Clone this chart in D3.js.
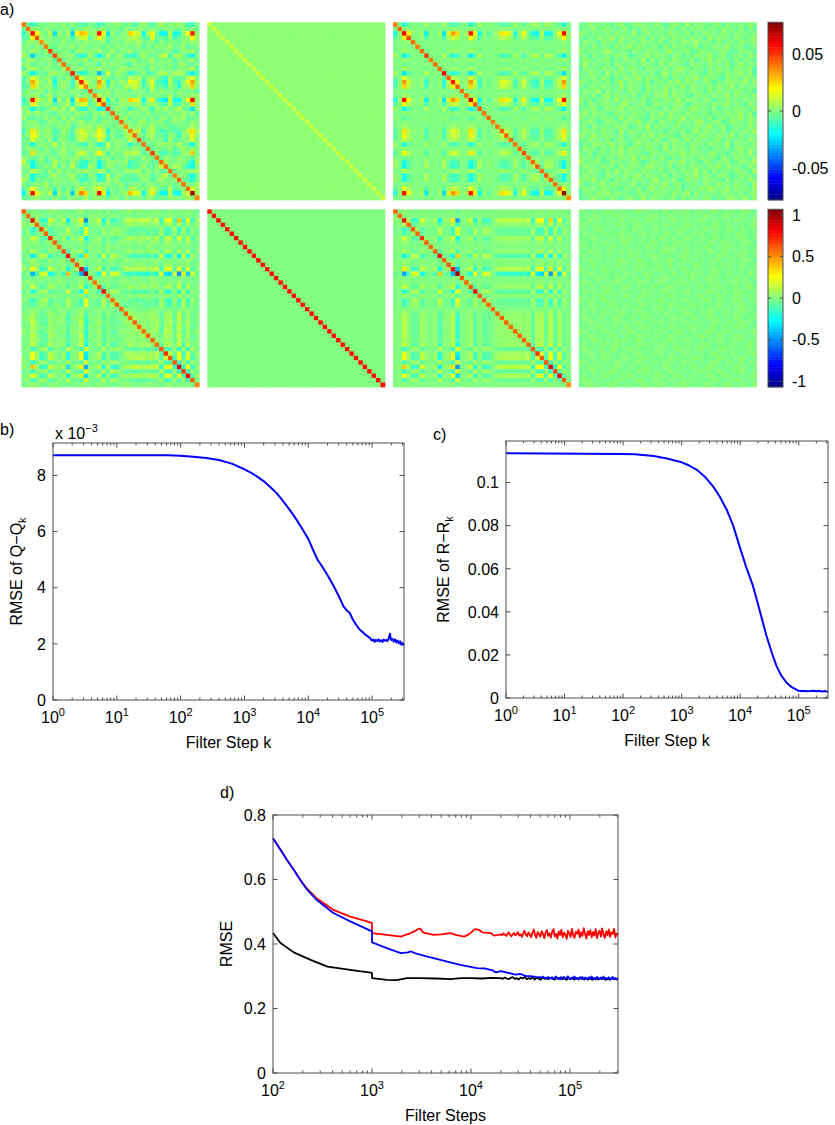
<!DOCTYPE html>
<html lang="en">
<head>
<meta charset="UTF-8">
<title>Covariance estimation figure</title>
<script src="https://d3js.org/d3.v7.min.js"></script>
<style>
  body { margin: 0; background: #fff; }
  svg { font-family: "Liberation Sans", Arial, Helvetica, sans-serif; }
  .frame { stroke: #4d4d4d; fill: none; stroke-width: 1; }
  .tick { stroke: #4d4d4d; stroke-width: 1; }
  .tick-label { font-size: 16px; fill: #000; }
  .sup { font-size: 11px; }
  .axis-title { font-size: 16px; fill: #000; }
  .panel-label { font-size: 16px; fill: #000; }
</style>
</head>
<body>
<svg id="fig" width="835" height="1125"></svg>
<script>
  // ---------- panel a: 40 x 40 matrices ----------
  const N = 40;
  const qRange = [-0.078, 0.078];
  const rRange = [-1.07, 1.07];
  const qTicks = [-0.05, 0, 0.05];
  const rTicks = [-1, -0.5, 0, 0.5, 1];

  // true matrix = scale * load_i * load_j off the diagonal, diag on it
  const qScale = 0.056;
  const qLoad = [-0.25, 0.05, 1.0, 0.35, 0.05, 0.0, 0.1, -0.38, 0.05, -0.05,
                 0.1, -0.42, 0.25, 0.62, 0.45, 0.0, 0.1, 1.0, 0.35, -0.35,
                 0.05, -0.1, 0.0, 0.1, 0.42, 0.38, 0.2, -0.28, 0.05, 0.38,
                 -0.05, -0.28, -0.36, 0.15, -0.3, -0.3, 0.05, 0.3, 1.02, 0.05];
  const qDiag = [0.040, 0.042, 0.060, 0.048, 0.042, 0.040, 0.042, 0.050, 0.040, 0.042,
                 0.041, 0.058, 0.043, 0.055, 0.045, 0.041, 0.042, 0.066, 0.046, 0.044,
                 0.041, 0.042, 0.040, 0.041, 0.044, 0.043, 0.042, 0.041, 0.042, 0.047,
                 0.041, 0.043, 0.045, 0.042, 0.044, 0.043, 0.041, 0.042, 0.074, 0.036];
  const rScale = 1.1;
  const rLoad = [0.05, 0.0, 0.55, 0.15, -0.25, -0.2, 0.3, 0.1, 0.0, 0.15,
                 -0.45, 0.05, 0.1, 0.5, -0.75, 0.0, 0.05, 0.25, -0.33, 0.1,
                 -0.25, -0.2, 0.0, 0.15, 0.2, 0.2, 0.2, 0.2, 0.2, 0.15,
                 0.25, -0.25, 0.35, 0.42, -0.2, 0.58, -0.25, 0.4, -0.2, 0.05];
  const rDiag = [0.60, 0.58, 0.78, 0.60, 0.62, 0.60, 0.70, 0.60, 0.58, 0.60,
                 0.78, 0.60, 0.62, 0.80, 1.00, 0.60, 0.58, 0.62, 0.78, 0.60,
                 0.60, 0.60, 0.58, 0.60, 0.60, 0.60, 0.58, 0.60, 0.60, 0.60,
                 0.60, 0.62, 0.70, 0.62, 0.62, 0.82, 0.64, 0.82, 0.62, 0.50];
  // initial guesses (second column)
  const qInitOff = 0.002, qInitDiag = 0.011;
  const rInitOff = 0.0, rInitDiag = 0.77;
  // estimation error (fourth column), digit 5 = zero
  const qNoiseStep = 0.0028, rNoiseStep = 0.03;
  const qNoise = [
    "5465546356445655465356547465545636455465",
    "4556465545635465546455364556455465546354",
    "6545546465547356455465546354655465465545",
    "5354655746554563645546554655374655465456",
    "4655365546455465546355466574553645546556",
    "5546455365574654553646554563546557456345",
    "6455467545536546554574556346554565346554",
    "5536455465634557465545635465574563455465",
    "4654556354655473645546554635574655364554",
    "5745546365455465537465543655465546357455",
    "3655465547465536554645765455364655465563",
    "5465537465546554635746554654365546557463",
    "4556465354655746554635546574655436554655",
    "6545546357465546355465746554653546655746",
    "5356465547465536554655473655464655736455",
    "4655736455465536455746554655374655465453",
    "5546357465546355465746554365546557465546",
    "6453556474655463554655746554653546554655",
    "5365465546745563465545653465546557455365",
    "4556346557465546553646554765546355465546",
    "5746554365546553647465546554635546557463",
    "6455465537465543655465574655463554657465",
    "4565346554655745536554655467455634655465",
    "5536455465634557465545635465574563455465",
    "4655465537465546545355463574655463554657",
    "6557465546355465746554365546554655736455",
    "5465546356445655465356547465545636455465",
    "3546655746535646554746553655465547365546",
    "4655364557465546553746554654535546357465",
    "5463554657465543655465574655466453556474",
    "6554635546557465546535465546555365465546",
    "7455634655456534655465574553654556346557",
    "4655465536465547655463554655465746554365",
    "5465536474655465546355465574636455465537",
    "4655436554655746554635546574654565346554",
    "6557455365546554674556346554655536455465",
    "6345574655456354655745634554654655465537",
    "4655465453554635746554635546576557465546",
    "3554657465543655465546557364555465546356",
    "4456554653565474655456364554653546655746"
  ];
  const rNoise = [
    "5545455645545655454645556455456545545654",
    "4556545465554545655465455454655456545545",
    "5465545546455546554556455456545545465546",
    "6545545465545654554655456545546545545456",
    "5545654545546554564545565454655545645545",
    "4655455456554564554654654556455545465545",
    "5456545546564554546555456545546545456545",
    "5545465545654554654545655455465465545654",
    "6545545654554546554656455454654556545545",
    "5465545546465545545655456455465465455645",
    "5545645545465545655454565455454655456545",
    "4565545456554654554565465545455645545654",
    "5456455465545565455464554565455465546545",
    "6545465545545654556455465455456545546455",
    "5565455454655456545546455655456545545465",
    "4545655465545546455654554654565545465545",
    "5654545565454655456545565455465545564554",
    "5455465545654554654565545546455654554565",
    "4655456545545465545655456454565545465545",
    "5545564554654565545465545456554654556455",
    "6455465545455654556545465545654554565455",
    "5465545654554565455465545655454654556545",
    "4556455465545654556454565545465545456554",
    "5545465546545565454655456545565455465545",
    "5654554565455465545456554654565545465455",
    "4565545465545654556455465545456545546554",
    "5455654554654565545465545655456455465545",
    "6545465545565455465545654554565465545456",
    "5465545654554656455465545456554654565545",
    "4556545465545654554565465545455654556455",
    "5545465565454655456545546455654554654565",
    "5654554654565545465545655456454565545465",
    "4565465545545654556455465545456554654556",
    "5455465545654565545465545565454655456545",
    "6545545465545654554655465545456545546455",
    "5465554565455465545654554654565545465545",
    "4556455654554656455465545456554654556545",
    "5545465545565455465545654554565465545456",
    "5654545465545654556455465545456545565455",
    "4565545654554565465545565454655456545546"
  ];

  // ---------- panel b: RMSE of Q - Q_k (units of 1e-3) ----------
  const stepsQ = [1, 10, 63, 100, 158, 251, 398, 631, 1000, 1259,
                  1585, 1995, 2512, 3162, 3981, 5012, 6310, 7943, 10000, 12589,
                  14125, 15849, 19953, 25119, 31623, 35481, 39811, 44668, 50119, 56234,
                  63096, 70795, 79433, 89125, 100000, 104713, 109648, 114815, 120226, 125893,
                  131826, 138038, 144544, 151356, 158489, 165959, 173780, 181970, 186209, 190546,
                  194984, 199526, 208930, 218776, 229087, 239883, 251189, 263027, 275423, 288403,
                  301995, 316228];
  const rmseQ = [8.72, 8.72, 8.72, 8.70, 8.67, 8.62, 8.55, 8.42, 8.22, 8.10,
                 7.96, 7.80, 7.60, 7.38, 7.10, 6.80, 6.48, 6.12, 5.74, 5.22,
                 4.98, 4.82, 4.45, 4.05, 3.60, 3.34, 3.20, 3.10, 2.86, 2.68,
                 2.52, 2.42, 2.32, 2.24, 2.12, 2.15, 2.08, 2.14, 2.10, 2.16,
                 2.09, 2.13, 2.07, 2.15, 2.11, 2.14, 2.10, 2.18, 2.28, 2.36,
                 2.22, 2.14, 2.18, 2.08, 2.16, 2.05, 2.12, 2.02, 2.09, 1.97,
                 2.03, 1.94];
  const qYTicks = [0, 2, 4, 6, 8];

  // ---------- panel c: RMSE of R - R_k ----------
  const stepsR = [1, 89, 158, 331, 562, 933, 1259, 1820, 2512, 3467,
                  4467, 5888, 7586, 9772, 12589, 16596, 21380, 28184, 34674, 41687,
                  50119, 61660, 75858, 97724, 112202, 125893, 141254, 158489, 177828, 199526,
                  223872, 251189, 281838, 316228];
  const rmseR = [0.1136, 0.1133, 0.1131, 0.1123, 0.1112, 0.1097, 0.1083, 0.1059, 0.1026, 0.0981,
                 0.0935, 0.0874, 0.0800, 0.0704, 0.0610, 0.0519, 0.0410, 0.0288, 0.0210, 0.0149,
                 0.0105, 0.0072, 0.0050, 0.0034, 0.0032, 0.0033, 0.0031, 0.0032, 0.0034, 0.0031,
                 0.0033, 0.0030, 0.0032, 0.0029];
  const rYTicks = [0, 0.02, 0.04, 0.06, 0.08, 0.1];

  // ---------- panel d: RMSE of three filters ----------
  const stepsRed = [100, 119, 138, 162, 189, 219, 275, 407, 603, 891,
                    1000, 1001, 1410, 1950, 2450, 2700, 3000, 3100, 3300, 4170,
                    5000, 6170, 7000, 8510, 9500, 10960, 12000, 13000, 15850, 17000, 19000];
  const rmseRed = [0.728, 0.692, 0.661, 0.630, 0.599, 0.573, 0.542, 0.506, 0.485, 0.470,
                   0.465, 0.434, 0.428, 0.423, 0.434, 0.440, 0.448, 0.446, 0.435, 0.428,
                   0.430, 0.434, 0.428, 0.423, 0.430, 0.446, 0.444, 0.436, 0.434, 0.426, 0.428];
  const tailRed = [0.430, 0.427, 0.433, 0.429, 0.425, 0.431, 0.436, 0.428, 0.424, 0.430,
                   0.434, 0.427, 0.431, 0.437, 0.426, 0.430, 0.422, 0.433, 0.441, 0.429,
                   0.424, 0.436, 0.430, 0.421, 0.434, 0.445, 0.428, 0.419, 0.437, 0.431,
                   0.423, 0.440, 0.432, 0.418, 0.436, 0.443, 0.425, 0.433, 0.420, 0.438,
                   0.446, 0.424, 0.431, 0.417, 0.439, 0.428, 0.444, 0.421, 0.435, 0.429,
                   0.416, 0.441, 0.433, 0.422, 0.447, 0.427, 0.419, 0.438, 0.432, 0.445,
                   0.420, 0.436, 0.425, 0.449, 0.430, 0.417, 0.440, 0.428, 0.443, 0.421,
                   0.437, 0.426, 0.446, 0.418, 0.434, 0.441, 0.423, 0.448, 0.429, 0.419,
                   0.439, 0.427, 0.445, 0.422, 0.436, 0.431, 0.447, 0.420, 0.433, 0.428];
  const stepsBlue = [100, 119, 138, 162, 189, 219, 275, 407, 603, 891,
                     1000, 1001, 1410, 1950, 2300, 2450, 2700, 3630, 4900, 7760,
                     11500, 14000, 16600, 17800, 20000, 25100, 28000, 31600, 35500, 40000, 45000];
  const rmseBlue = [0.728, 0.692, 0.661, 0.630, 0.598, 0.570, 0.537, 0.496, 0.470, 0.446,
                    0.439, 0.405, 0.387, 0.372, 0.374, 0.377, 0.372, 0.361, 0.351, 0.335,
                    0.325, 0.324, 0.318, 0.312, 0.316, 0.309, 0.305, 0.307, 0.301, 0.300, 0.298];
  const tailBlue = [0.297, 0.295, 0.299, 0.294, 0.296, 0.292, 0.298, 0.295, 0.293, 0.297,
                    0.291, 0.296, 0.299, 0.293, 0.295, 0.290, 0.297, 0.294, 0.298, 0.292,
                    0.295, 0.300, 0.293, 0.291, 0.296, 0.294, 0.299, 0.292, 0.295, 0.290,
                    0.297, 0.293, 0.298, 0.291, 0.296, 0.294, 0.289, 0.297, 0.293, 0.299,
                    0.292, 0.295, 0.290, 0.298, 0.294, 0.291, 0.296, 0.293, 0.299, 0.290,
                    0.295, 0.292, 0.297, 0.289, 0.294, 0.298, 0.291, 0.295, 0.290, 0.293];
  const stepsBlack = [100, 119, 162, 240, 355, 513, 708, 977, 1000, 1001,
                      1410, 1780, 2240, 3000, 4500, 6170, 8000, 10000, 13000, 16000];
  const rmseBlack = [0.434, 0.403, 0.374, 0.351, 0.330, 0.323, 0.317, 0.311, 0.310, 0.294,
                     0.289, 0.288, 0.294, 0.294, 0.293, 0.291, 0.294, 0.294, 0.293, 0.295];
  const tailBlack = [0.294, 0.292, 0.296, 0.293, 0.291, 0.295, 0.297, 0.292, 0.294, 0.290,
                     0.296, 0.293, 0.298, 0.291, 0.294, 0.292, 0.297, 0.290, 0.295, 0.293,
                     0.289, 0.296, 0.292, 0.294, 0.291, 0.295, 0.293, 0.290, 0.294, 0.292,
                     0.296, 0.291, 0.293, 0.289, 0.295, 0.292, 0.294, 0.290, 0.293, 0.291,
                     0.295, 0.292, 0.290, 0.294, 0.291, 0.293, 0.289, 0.292, 0.294, 0.290,
                     0.293, 0.291, 0.294, 0.289, 0.292, 0.290, 0.293, 0.291, 0.292, 0.290];
  const dYTicks = [0, 0.2, 0.4, 0.6, 0.8];

  const svg = d3.select("#fig");

  // MATLAB "jet" colormap over a value range
  function jet(range) {
    const [lo, hi] = range;
    return d3.scaleLinear()
      .domain([0, 1/8, 3/8, 5/8, 7/8, 1].map(t => lo + t * (hi - lo)))
      .range(["#000080", "#0000ff", "#00ffff", "#ffff00", "#ff0000", "#800000"])
      .clamp(true);
  }

  function trueMatrix(load, diag, scale) {
    return d3.range(N).map(i => d3.range(N).map(j => i === j ? diag[i] : scale * load[i] * load[j]));
  }
  function noiseMatrix(rows, step) {
    return rows.map(r => d3.range(N).map(j => (+(r[j] || 5) - 5) * step));
  }
  function initMatrix(off, diag) {
    return d3.range(N).map(i => d3.range(N).map(j => i === j ? diag : off));
  }
  function addMatrix(a, b) {
    return a.map((row, i) => row.map((v, j) => v + b[i][j]));
  }

  const qTrue = trueMatrix(qLoad, qDiag, qScale);
  const qErr = noiseMatrix(qNoise, qNoiseStep);
  const rTrue = trueMatrix(rLoad, rDiag, rScale);
  const rErr = noiseMatrix(rNoise, rNoiseStep);

  const topRow = [addMatrix(qTrue, qErr), initMatrix(qInitOff, qInitDiag), qTrue, qErr];
  const botRow = [addMatrix(rTrue, rErr), initMatrix(rInitOff, rInitDiag), rTrue, rErr];

  const matLeft = [21.5, 207.3, 393.1, 578.9];
  const matTop = [22.3, 209.3];
  const matSize = 177.6;
  const cell = d3.scaleBand().domain(d3.range(N)).range([0, matSize]);

  function drawMatrix(m, x0, y0, color) {
    const g = svg.append("g").attr("transform", `translate(${x0},${y0})`);
    g.selectAll("g").data(m).join("g")
      .selectAll("rect")
      .data((row, i) => row.map((v, j) => ({ i, j, v })))
      .join("rect")
      .attr("x", d => cell(d.j))
      .attr("y", d => cell(d.i))
      .attr("width", cell.bandwidth() + 0.45)
      .attr("height", cell.bandwidth() + 0.45)
      .attr("fill", d => color(d.v));
  }

  const qColor = jet(qRange), rColor = jet(rRange);
  topRow.forEach((m, k) => drawMatrix(m, matLeft[k], matTop[0], qColor));
  botRow.forEach((m, k) => drawMatrix(m, matLeft[k], matTop[1], rColor));

  // colorbars
  const cbX = 768, cbW = 15;
  function drawColorbar(y0, range, ticks, color, fmt) {
    const y = d3.scaleLinear().domain(range).range([y0 + matSize, y0]);
    const levels = d3.range(64).map(k => range[0] + (k + 0.5) * (range[1] - range[0]) / 64);
    const h = matSize / 64;
    const g = svg.append("g");
    g.selectAll("rect.lv").data(levels).join("rect").attr("class", "lv")
      .attr("x", cbX).attr("width", cbW)
      .attr("y", v => y(v) - h / 2).attr("height", h + 0.4)
      .attr("fill", v => color(v));
    g.append("rect").attr("class", "frame")
      .attr("x", cbX).attr("y", y0).attr("width", cbW).attr("height", matSize);
    g.selectAll("line.l").data(ticks).join("line").attr("class", "tick")
      .attr("x1", cbX).attr("x2", cbX + 3).attr("y1", v => y(v)).attr("y2", v => y(v));
    g.selectAll("line.r").data(ticks).join("line").attr("class", "tick")
      .attr("x1", cbX + cbW - 3).attr("x2", cbX + cbW).attr("y1", v => y(v)).attr("y2", v => y(v));
    g.selectAll("text").data(ticks).join("text").attr("class", "tick-label")
      .attr("x", cbX + cbW + 9).attr("y", v => y(v)).attr("dy", "0.36em")
      .text(fmt);
  }
  drawColorbar(matTop[0], qRange, qTicks, qColor, v => v === 0 ? "0" : (v < 0 ? "-" : "") + Math.abs(v));
  drawColorbar(matTop[1], rRange, rTicks, rColor, v => v === 0 ? "0" : (v < 0 ? "-" : "") + Math.abs(v));

  svg.append("text").attr("class", "panel-label").attr("x", 0).attr("y", 15).text("a)");

  // ---------- line panels ----------
  function linePanel(o) {
    const g = svg.append("g");
    const x = d3.scaleLog().domain(o.xDomain).range([o.left, o.right]);
    const y = d3.scaleLinear().domain(o.yDomain).range([o.bottom, o.top]);

    const majors = o.xMajor;
    const minors = x.ticks().filter(t => !majors.includes(t));
    const tickSets = [[majors, 4.5], [minors, 2.5]];
    tickSets.forEach(([ts, len]) => {
      g.selectAll(null).data(ts).join("line").attr("class", "tick")
        .attr("x1", d => x(d)).attr("x2", d => x(d))
        .attr("y1", o.bottom).attr("y2", o.bottom - len);
      g.selectAll(null).data(ts).join("line").attr("class", "tick")
        .attr("x1", d => x(d)).attr("x2", d => x(d))
        .attr("y1", o.top).attr("y2", o.top + len);
    });
    g.selectAll(null).data(o.yTicks).join("line").attr("class", "tick")
      .attr("x1", o.left).attr("x2", o.left + 4.5)
      .attr("y1", d => y(d)).attr("y2", d => y(d));
    g.selectAll(null).data(o.yTicks).join("line").attr("class", "tick")
      .attr("x1", o.right - 4.5).attr("x2", o.right)
      .attr("y1", d => y(d)).attr("y2", d => y(d));

    // data lines
    o.series.forEach(s => {
      g.append("path")
        .datum(d3.zip(s.x, s.y))
        .attr("fill", "none")
        .attr("stroke", s.color)
        .attr("stroke-width", s.width || 1.8)
        .attr("stroke-linejoin", "round")
        .attr("d", d3.line().x(d => x(d[0])).y(d => y(d[1])));
    });

    g.append("rect").attr("class", "frame")
      .attr("x", o.left).attr("y", o.top)
      .attr("width", o.right - o.left).attr("height", o.bottom - o.top);

    // x tick labels 10^n
    const xl = g.selectAll(null).data(majors).join("text").attr("class", "tick-label")
      .attr("x", d => x(d)).attr("y", o.bottom + 23).attr("text-anchor", "middle");
    xl.append("tspan").text("10");
    xl.append("tspan").attr("class", "sup").attr("dy", -7).text(d => Math.round(Math.log10(d)));

    g.selectAll(null).data(o.yTicks).join("text").attr("class", "tick-label")
      .attr("x", o.left - 7).attr("y", d => y(d)).attr("dy", "0.36em")
      .attr("text-anchor", "end").text(o.yFormat);

    // axis titles
    g.append("text").attr("class", "axis-title")
      .attr("x", (o.left + o.right) / 2).attr("y", o.bottom + 48)
      .attr("text-anchor", "middle").text(o.xTitle);
    const yt = g.append("text").attr("class", "axis-title")
      .attr("transform", `translate(${o.yTitleX},${(o.top + o.bottom) / 2}) rotate(-90)`)
      .attr("text-anchor", "middle");
    yt.append("tspan").text(o.yTitle[0]);
    if (o.yTitle[1]) yt.append("tspan").attr("class", "sup").attr("dy", 4).text(o.yTitle[1]);

    g.append("text").attr("class", "panel-label")
      .attr("x", o.labelX).attr("y", o.labelY).text(o.label);
    return { x, y, g };
  }

  const fmtNum = d => d3.format("~g")(d);

  const pb = linePanel({
    left: 53, right: 404, top: 443, bottom: 700,
    xDomain: [1, 316228], yDomain: [0, 9.156],
    xMajor: [1, 10, 100, 1000, 10000, 100000],
    yTicks: qYTicks, yFormat: fmtNum,
    xTitle: "Filter Step k", yTitle: ["RMSE of Q\u2212Q", "k"], yTitleX: 22,
    label: "b)", labelX: 0, labelY: 435,
    series: [{ x: stepsQ, y: rmseQ, color: "#0000ff", width: 2 }]
  });
  const ex = pb.g.append("text").attr("class", "tick-label").attr("x", 55).attr("y", 439);
  ex.append("tspan").text("x 10");
  ex.append("tspan").attr("class", "sup").attr("dy", -7).text("\u22123");

  linePanel({
    left: 506, right: 828, top: 441, bottom: 698,
    xDomain: [1, 316228], yDomain: [0, 0.1193],
    xMajor: [1, 10, 100, 1000, 10000, 100000],
    yTicks: rYTicks, yFormat: fmtNum,
    xTitle: "Filter Step k", yTitle: ["RMSE of R\u2212R", "k"], yTitleX: 449,
    label: "c)", labelX: 433, labelY: 440,
    series: [{ x: stepsR, y: rmseR, color: "#0000ff", width: 2 }]
  });

  // regular log grid for the noisy tails of panel d
  function logGrid(from, to, n) {
    const a = Math.log10(from), b = Math.log10(to);
    return d3.range(n).map(i => Math.pow(10, a + i * (b - a) / (n - 1)));
  }
  const dEnd = 305000;
  linePanel({
    left: 273, right: 618, top: 815, bottom: 1073,
    xDomain: [100, dEnd], yDomain: [0, 0.8],
    xMajor: [100, 1000, 10000, 100000],
    yTicks: dYTicks, yFormat: fmtNum,
    xTitle: "Filter Steps", yTitle: ["RMSE"], yTitleX: 232,
    label: "d)", labelX: 220, labelY: 798,
    series: [
      { x: stepsBlack.concat(logGrid(20000, dEnd, tailBlack.length)), y: rmseBlack.concat(tailBlack), color: "#000000" },
      { x: stepsRed.concat(logGrid(20000, dEnd, tailRed.length)), y: rmseRed.concat(tailRed), color: "#ff0000" },
      { x: stepsBlue.concat(logGrid(50000, dEnd, tailBlue.length)), y: rmseBlue.concat(tailBlue), color: "#0000ff" }
    ]
  });
</script>
</body>
</html>
